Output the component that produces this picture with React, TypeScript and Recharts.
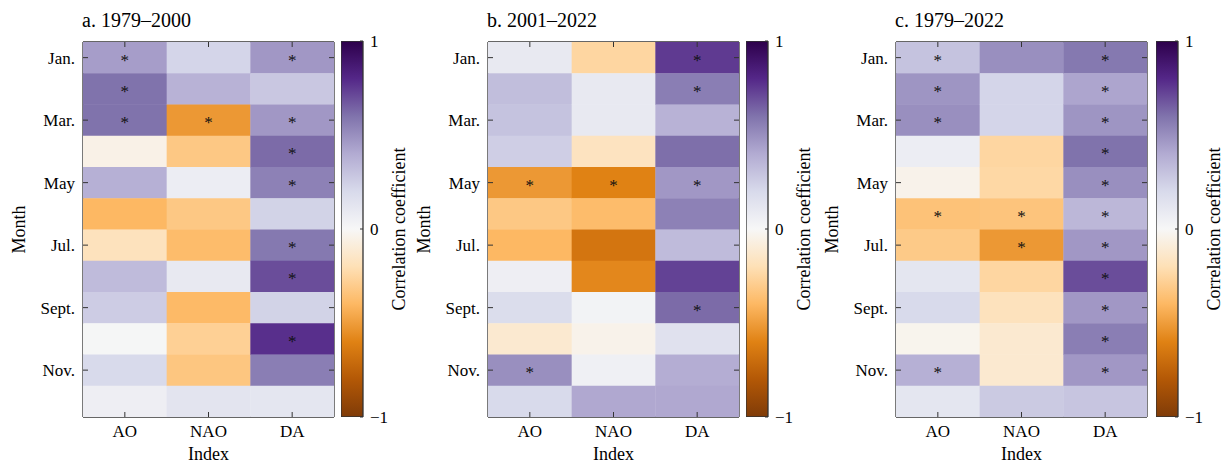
import React from 'react';
import { ScatterChart, Scatter, XAxis, YAxis, BarChart, Bar } from 'recharts';

const indices = ['AO', 'NAO', 'DA'];
const monthLabels = ['Jan.', 'Feb.', 'Mar.', 'Apr.', 'May', 'Jun.', 'Jul.', 'Aug.', 'Sept.', 'Oct.', 'Nov.', 'Dec.'];
const monthTicks = [0, 2, 4, 6, 8, 10];
const colorbarTicks = [-1, 0, 1];
const titles = ['a. 1979–2000', 'b. 2001–2022', 'c. 1979–2022'];

// Panel a: 1979–2000
const aAO = [0.45, 0.6, 0.6, -0.05, 0.38, -0.4, -0.18, 0.33, 0.26, 0.01, 0.2, 0.06];
const aNAO = [0.22, 0.37, -0.52, -0.32, 0.07, -0.32, -0.38, 0.1, -0.39, -0.28, -0.33, 0.13];
const aDA = [0.47, 0.28, 0.47, 0.62, 0.55, 0.23, 0.58, 0.7, 0.23, 0.78, 0.56, 0.12];
const aSigAO = [1, 1, 1, 0, 0, 0, 0, 0, 0, 0, 0, 0];
const aSigNAO = [0, 0, 1, 0, 0, 0, 0, 0, 0, 0, 0, 0];
const aSigDA = [1, 0, 1, 1, 1, 0, 1, 1, 0, 1, 0, 0];

// Panel b: 2001–2022
const bAO = [0.1, 0.32, 0.3, 0.25, -0.52, -0.32, -0.4, 0.06, 0.18, -0.12, 0.5, 0.2];
const bNAO = [-0.25, 0.1, 0.1, -0.17, -0.6, -0.38, -0.66, -0.58, 0.03, -0.04, 0.05, 0.41];
const bDA = [0.75, 0.56, 0.37, 0.61, 0.47, 0.55, 0.33, 0.73, 0.62, 0.15, 0.39, 0.41];
const bSigAO = [0, 0, 0, 0, 1, 0, 0, 0, 0, 0, 1, 0];
const bSigNAO = [0, 0, 0, 0, 1, 0, 0, 0, 0, 0, 0, 0];
const bSigDA = [1, 1, 0, 0, 1, 0, 0, 0, 1, 0, 0, 0];

// Panel c: 1979–2022
const cAO = [0.3, 0.48, 0.5, 0.07, -0.04, -0.35, -0.31, 0.12, 0.2, -0.03, 0.38, 0.12];
const cNAO = [0.5, 0.22, 0.22, -0.25, -0.24, -0.34, -0.52, -0.25, -0.18, -0.12, -0.12, 0.27];
const cDA = [0.58, 0.42, 0.48, 0.6, 0.5, 0.35, 0.47, 0.7, 0.47, 0.56, 0.47, 0.29];
const cSigAO = [1, 1, 1, 0, 0, 1, 0, 0, 0, 0, 1, 0];
const cSigNAO = [0, 0, 0, 0, 0, 1, 1, 0, 0, 0, 0, 0];
const cSigDA = [1, 1, 1, 1, 1, 1, 1, 1, 1, 1, 1, 0];

const PUOR = ['#7f3b08', '#b35806', '#e08214', '#fdb863', '#fee0b6', '#f7f7f7', '#d8daeb', '#b2abd2', '#8073ac', '#542788', '#2d004b'];

const FONT = '"Liberation Serif", "Times New Roman", serif';
const FRAME = '#333333';
const PLOT_W = 251;
const PLOT_H = 375;
const CELL_W = PLOT_W / 3;
const CELL_H = PLOT_H / 12;

function hexToRgb(h: string) {
  return [parseInt(h.slice(1, 3), 16), parseInt(h.slice(3, 5), 16), parseInt(h.slice(5, 7), 16)];
}
function colorFor(v: number) {
  const t = Math.max(0, Math.min(1, (v + 1) / 2)) * 10;
  const i = Math.min(9, Math.floor(t));
  const f = t - i;
  const a = hexToRgb(PUOR[i]);
  const b = hexToRgb(PUOR[i + 1]);
  const c = a.map((x, k) => Math.round(x + (b[k] - x) * f));
  return `rgb(${c[0]},${c[1]},${c[2]})`;
}

function buildPoints(vals: number[][], sigs: number[][]) {
  const pts: { x: number; y: number; v: number; sig: number }[] = [];
  vals.forEach((col, ci) => {
    col.forEach((v, ri) => pts.push({ x: ci, y: ri, v, sig: sigs[ci][ri] }));
  });
  return pts;
}

const panels = [
  { title: titles[0], data: buildPoints([aAO, aNAO, aDA], [aSigAO, aSigNAO, aSigDA]), left: 0, cbLeft: 340.5 },
  { title: titles[1], data: buildPoints([bAO, bNAO, bDA], [bSigAO, bSigNAO, bSigDA]), left: 405, cbLeft: 746 },
  { title: titles[2], data: buildPoints([cAO, cNAO, cDA], [cSigAO, cSigNAO, cSigDA]), left: 813, cbLeft: 1156 },
];

const CellShape = (props: any) => {
  const { cx, cy, payload } = props;
  if (cx == null || cy == null) return null;
  return (
    <g>
      <rect
        x={cx - CELL_W / 2}
        y={cy - CELL_H / 2}
        width={CELL_W + 0.4}
        height={CELL_H + 0.4}
        fill={colorFor(payload.v)}
      />
      {payload.sig ? (
        <text x={cx} y={cy + 8} textAnchor="middle" fontSize={17} fontFamily={FONT} fill="#111">
          *
        </text>
      ) : null}
    </g>
  );
};

const NullShape = () => <g />;

const LeftTick = (props: any) => {
  const { x, y, payload } = props;
  return (
    <g>
      <line x1={x} x2={x + 5} y1={y} y2={y} stroke={FRAME} strokeWidth={1} />
      <text x={x - 8} y={y + 6} textAnchor="end" fontSize={17} fontFamily={FONT} fill="#000">
        {monthLabels[payload.value]}
      </text>
    </g>
  );
};
const RightTick = (props: any) => {
  const { x, y } = props;
  return <line x1={x} x2={x - 5} y1={y} y2={y} stroke={FRAME} strokeWidth={1} />;
};
const BottomTick = (props: any) => {
  const { x, y, payload } = props;
  return (
    <g>
      <line x1={x} x2={x} y1={y} y2={y - 5} stroke={FRAME} strokeWidth={1} />
      <text x={x} y={y + 20} textAnchor="middle" fontSize={17} fontFamily={FONT} fill="#000">
        {indices[payload.value]}
      </text>
    </g>
  );
};
const TopTick = (props: any) => {
  const { x, y } = props;
  return <line x1={x} x2={x} y1={y} y2={y + 5} stroke={FRAME} strokeWidth={1} />;
};
const CbTick = (props: any) => {
  const { x, y, payload } = props;
  const v = payload.value;
  return (
    <g>
      <line x1={x} x2={x - 3} y1={y} y2={y} stroke={FRAME} strokeWidth={1} />
      <text x={x + 7} y={y + 6} textAnchor="start" fontSize={17} fontFamily={FONT} fill="#000">
        {v < 0 ? '−' + Math.abs(v) : String(v)}
      </text>
    </g>
  );
};

function Panel({ p, idx }: { p: any; idx: number }) {
  const gradId = `puor-grad-${idx}`;
  const cbData = [{ k: 'cb', v: [-1, 1] }];
  return (
    <>
      <div style={{ position: 'absolute', left: p.left, top: 0 }}>
        <ScatterChart width={345} height={465} margin={{ top: 41, right: 0, bottom: 0, left: 0 }}>
          <Scatter data={p.data} xAxisId="b" yAxisId="l" dataKey="v" shape={<CellShape />} isAnimationActive={false} />
          <Scatter data={p.data} xAxisId="t" yAxisId="r" dataKey="v" shape={<NullShape />} isAnimationActive={false} />
          <XAxis
            xAxisId="b"
            type="number"
            dataKey="x"
            domain={[-0.5, 2.5]}
            ticks={[0, 1, 2]}
            height={48}
            orientation="bottom"
            axisLine={{ stroke: FRAME, strokeWidth: 1.3 }}
            tickLine={false}
            tickSize={0}
            tickMargin={0}
            tick={<BottomTick />}
            allowDataOverflow
            label={{
              content: (lp: any) => {
                const vb = lp.viewBox;
                return (
                  <text x={vb.x + vb.width / 2} y={460} textAnchor="middle" fontSize={18} fontFamily={FONT} fill="#000">
                    Index
                  </text>
                );
              },
            }}
          />
          <XAxis
            xAxisId="t"
            type="number"
            dataKey="x"
            domain={[-0.5, 2.5]}
            ticks={[0, 1, 2]}
            height={1}
            orientation="top"
            axisLine={{ stroke: FRAME, strokeWidth: 1.3 }}
            tickLine={false}
            tickSize={0}
            tickMargin={0}
            tick={<TopTick />}
            allowDataOverflow
            label={{
              content: (lp: any) => {
                const vb = lp.viewBox;
                return (
                  <text x={vb.x - 1} y={27} textAnchor="start" fontSize={20} fontFamily={FONT} fill="#000">
                    {p.title}
                  </text>
                );
              },
            }}
          />
          <YAxis
            yAxisId="l"
            type="number"
            dataKey="y"
            domain={[-0.5, 11.5]}
            reversed
            ticks={monthTicks}
            width={83}
            orientation="left"
            axisLine={{ stroke: FRAME, strokeWidth: 1.3 }}
            tickLine={false}
            tickSize={0}
            tickMargin={0}
            tick={<LeftTick />}
            allowDataOverflow
            label={{
              content: (lp: any) => {
                const vb = lp.viewBox;
                const cx = vb.x + 25;
                const cy = vb.y + vb.height / 2;
                return (
                  <text x={cx} y={cy} transform={`rotate(-90, ${cx}, ${cy})`} textAnchor="middle" fontSize={18} fontFamily={FONT} fill="#000">
                    Month
                  </text>
                );
              },
            }}
          />
          <YAxis
            yAxisId="r"
            type="number"
            dataKey="y"
            domain={[-0.5, 11.5]}
            reversed
            ticks={monthTicks}
            width={11}
            orientation="right"
            axisLine={{ stroke: FRAME, strokeWidth: 1.3 }}
            tickLine={false}
            tickSize={0}
            tickMargin={0}
            tick={<RightTick />}
            allowDataOverflow
          />
        </ScatterChart>
      </div>
      <div style={{ position: 'absolute', left: p.cbLeft, top: 0 }}>
        <BarChart width={82} height={465} data={cbData} margin={{ top: 41, right: 0, bottom: 48, left: 0 }} barCategoryGap={0}>
          <defs>
            <linearGradient id={gradId} x1="0" y1="1" x2="0" y2="0">
              {PUOR.map((c, i) => (
                <stop key={i} offset={`${i * 10}%`} stopColor={c} />
              ))}
            </linearGradient>
          </defs>
          <XAxis dataKey="k" hide />
          <YAxis
            orientation="right"
            type="number"
            domain={[-1, 1]}
            ticks={colorbarTicks}
            width={60}
            axisLine={false}
            tickLine={false}
            tickSize={0}
            tickMargin={0}
            tick={<CbTick />}
            allowDataOverflow
            label={{
              content: (lp: any) => {
                const vb = lp.viewBox;
                const cx = vb.x + 42;
                const cy = vb.y + vb.height / 2;
                return (
                  <text x={cx} y={cy} transform={`rotate(-90, ${cx}, ${cy})`} textAnchor="middle" fontSize={18} fontFamily={FONT} fill="#000">
                    Correlation coefficient
                  </text>
                );
              },
            }}
          />
          <Bar dataKey="v" fill={`url(#${gradId})`} stroke={FRAME} strokeWidth={1.3} isAnimationActive={false} />
        </BarChart>
      </div>
    </>
  );
}

export default function App() {
  return (
    <div style={{ position: 'absolute', left: 0, top: 0, width: 1223, height: 465, background: '#fff', fontFamily: FONT }}>
      {panels.map((p, i) => (
        <Panel key={i} p={p} idx={i} />
      ))}
    </div>
  );
}
